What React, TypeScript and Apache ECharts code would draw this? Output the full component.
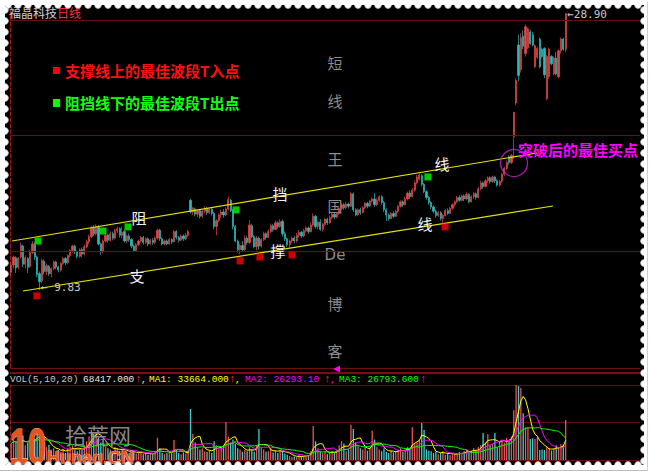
import React, { useEffect, useRef } from "react";
import * as echarts from "echarts";

const SLOT_COUNT = 267;

// [open, close, low, high]
const ohlcBase: number[][] = [
  [11.05, 11.55, 10.8, 11.75], [11.55, 12.1, 11.3, 12.2], [12.05, 11.35, 11.0, 12.15], [11.4, 12.0, 11.25, 12.1],
  [12.1, 12.9, 12.0, 13.1], [12.85, 11.6, 11.4, 12.95], [11.6, 12.05, 11.3, 12.2], [12.0, 11.4, 11.0, 12.1],
  [11.45, 12.4, 11.35, 12.6], [12.4, 13.0, 12.3, 13.2], [12.95, 12.1, 11.9, 13.1], [12.1, 10.9, 10.7, 12.2],
  [10.95, 10.4, 9.83, 11.1], [10.45, 11.85, 10.3, 12.0], [11.8, 11.1, 10.9, 11.95], [11.1, 11.5, 10.85, 11.65],
  [11.45, 10.95, 10.8, 11.55], [10.95, 11.3, 10.7, 11.4], [11.3, 11.75, 11.2, 11.85], [11.75, 11.4, 11.25, 11.85],
  [11.4, 11.2, 11.05, 11.5], [11.2, 11.65, 11.1, 11.75], [11.65, 12.0, 11.55, 12.1], [12.0, 11.7, 11.55, 12.1],
  [11.7, 12.2, 11.6, 12.3], [12.2, 12.55, 12.05, 12.65], [12.55, 12.85, 12.4, 12.95], [12.85, 12.45, 12.3, 12.95],
  [12.45, 12.15, 12.0, 12.55], [12.15, 12.6, 12.05, 12.7], [12.6, 12.3, 12.1, 12.75], [12.3, 12.8, 12.2, 12.95],
  [12.8, 13.15, 12.7, 13.3], [13.15, 13.5, 13.0, 13.65], [13.5, 14.1, 13.4, 14.25], [14.1, 13.7, 13.55, 14.3],
  [13.7, 14.2, 13.6, 14.35], [14.15, 13.0, 12.9, 14.3], [13.0, 12.45, 12.25, 13.1], [12.45, 13.2, 12.35, 13.3],
  [13.2, 13.6, 13.1, 13.75], [13.6, 13.25, 13.1, 13.7], [13.25, 13.7, 13.15, 13.85], [13.7, 13.4, 13.25, 13.85],
  [13.4, 13.9, 13.3, 14.05], [13.9, 14.05, 13.75, 14.2], [14.05, 13.6, 13.45, 14.15], [13.6, 13.8, 13.4, 14.2],
  [13.85, 13.2, 13.1, 13.95], [13.2, 13.55, 13.05, 13.65], [13.55, 13.3, 13.15, 13.7], [13.3, 12.85, 12.7, 13.4],
  [12.85, 12.55, 12.45, 12.95], [12.55, 12.95, 12.5, 13.05], [12.95, 13.2, 12.85, 13.3], [13.2, 13.45, 13.1, 13.55],
  [13.45, 13.1, 12.95, 13.55], [13.1, 13.35, 13.0, 13.45], [13.35, 13.0, 12.85, 13.45], [13.0, 13.25, 12.95, 13.35],
  [13.25, 13.1, 12.95, 13.4], [13.1, 13.4, 13.0, 13.5], [13.4, 13.95, 13.3, 14.05], [13.95, 13.35, 13.2, 14.05],
  [13.35, 13.0, 12.9, 13.45], [13.0, 13.2, 12.9, 13.3], [13.2, 13.0, 12.9, 13.3], [13.0, 13.3, 12.95, 13.4],
  [13.3, 13.15, 13.0, 13.4], [13.15, 13.85, 13.1, 13.95], [13.85, 13.45, 13.3, 13.95], [13.45, 13.25, 13.1, 13.55],
  [13.25, 13.55, 13.2, 13.65], [13.55, 13.35, 13.2, 13.65], [13.35, 13.6, 13.25, 13.75], [13.6, 13.85, 13.5, 13.95],
];

const ohlcChannel: number[][] = [
  [16.0, 15.2, 15.1, 16.1], [15.2, 15.45, 15.0, 15.55], [15.4, 15.05, 14.9, 15.5], [15.05, 15.3, 14.85, 15.4],
  [15.3, 14.9, 14.75, 15.4], [14.9, 15.25, 14.8, 15.35], [15.25, 15.45, 15.1, 15.6], [15.45, 15.15, 15.0, 15.55],
  [15.15, 15.4, 15.05, 15.5], [15.4, 15.1, 14.95, 15.5], [15.1, 14.2, 14.0, 15.2], [14.2, 14.6, 13.6, 14.7],
  [14.6, 15.0, 14.5, 15.1], [15.0, 15.2, 14.8, 15.35], [15.2, 15.0, 14.8, 15.4], [15.0, 15.4, 14.9, 15.55],
  [15.4, 16.05, 15.3, 16.25], [16.0, 15.3, 15.2, 16.1], [15.3, 14.2, 14.0, 15.4], [14.2, 13.2, 13.1, 14.3],
  [13.2, 12.6, 12.4, 13.3], [12.6, 12.9, 12.3, 13.0], [12.9, 12.6, 12.5, 13.2], [12.6, 13.4, 12.55, 13.6],
  [13.4, 13.1, 12.95, 13.55], [13.1, 14.3, 13.0, 14.65], [14.25, 13.5, 13.4, 14.4], [13.5, 12.8, 12.7, 13.6],
  [12.8, 13.4, 12.55, 13.55], [13.4, 12.85, 12.6, 13.5], [12.85, 13.3, 12.75, 13.4], [13.3, 13.7, 13.2, 13.85],
  [13.7, 13.45, 13.3, 13.8], [13.45, 13.85, 13.4, 14.0], [13.85, 14.25, 13.75, 14.4], [14.25, 14.0, 13.85, 14.35],
  [14.0, 14.45, 13.95, 14.6], [14.45, 14.2, 14.05, 14.55], [14.2, 14.55, 14.1, 14.7], [14.55, 13.7, 13.5, 14.65],
  [13.7, 13.35, 13.2, 13.85], [13.35, 12.95, 12.8, 13.45], [12.95, 13.2, 12.75, 13.3], [13.2, 13.4, 13.05, 13.5],
  [13.4, 13.2, 13.05, 13.55], [13.2, 13.6, 13.1, 13.75], [13.6, 13.8, 13.45, 13.95], [13.8, 13.55, 13.4, 13.9],
  [13.55, 13.9, 13.45, 14.05], [13.9, 14.1, 13.8, 14.2], [14.1, 13.85, 13.7, 14.2], [13.85, 14.3, 13.8, 14.45],
  [14.3, 14.9, 14.2, 15.1], [14.9, 14.2, 14.05, 15.0], [14.2, 14.5, 14.0, 14.6], [14.5, 14.0, 13.9, 14.7],
  [14.0, 14.35, 13.85, 14.45], [14.35, 14.7, 14.25, 14.8], [14.7, 14.45, 14.3, 14.8], [14.45, 14.8, 14.4, 14.95],
  [14.8, 15.05, 14.7, 15.15], [15.05, 14.85, 14.7, 15.15], [14.85, 15.1, 14.75, 15.2], [15.1, 15.45, 15.0, 15.55],
  [15.45, 15.7, 15.35, 15.8], [15.7, 15.5, 15.35, 15.8], [15.5, 15.75, 15.4, 15.9], [15.75, 15.6, 15.45, 15.85],
  [15.6, 16.45, 15.55, 16.6], [16.45, 15.35, 15.2, 16.55], [15.35, 15.0, 14.9, 15.45], [15.0, 15.35, 14.95, 15.45],
  [15.35, 15.15, 15.0, 15.5], [15.15, 15.5, 15.1, 15.6], [15.5, 15.8, 15.4, 15.9], [15.8, 15.6, 15.45, 15.9],
  [15.6, 15.95, 15.55, 16.05], [15.95, 16.1, 15.85, 16.2], [16.1, 15.7, 15.55, 16.5], [15.7, 16.0, 15.6, 16.15],
  [16.0, 16.25, 15.9, 16.35], [16.25, 15.85, 15.7, 16.35], [15.85, 15.35, 15.2, 15.95], [15.35, 15.0, 14.6, 15.45],
  [15.0, 14.75, 14.6, 15.1], [14.75, 15.1, 14.7, 15.2], [15.1, 14.9, 14.8, 15.25], [14.9, 15.25, 14.85, 15.35],
  [15.25, 15.6, 15.15, 15.7], [15.6, 15.9, 15.5, 16.0], [15.9, 15.7, 15.55, 16.0], [15.7, 16.1, 15.65, 16.25],
  [16.1, 16.5, 16.0, 16.6], [16.5, 16.25, 16.1, 16.7], [16.25, 16.7, 16.2, 16.85], [16.7, 17.2, 16.6, 17.35],
  [17.2, 17.6, 17.1, 17.75], [17.45, 17.75, 17.35, 17.85], [17.7, 17.1, 16.95, 17.8], [17.1, 16.6, 16.5, 17.2],
  [16.6, 16.2, 16.05, 16.7], [16.2, 15.85, 15.7, 16.3], [15.85, 15.55, 15.4, 15.95], [15.55, 15.25, 15.1, 15.65],
  [15.25, 14.95, 14.8, 15.35], [14.95, 15.15, 14.85, 15.25], [15.15, 14.75, 14.6, 15.25], [14.75, 14.95, 14.45, 15.05],
  [14.95, 15.3, 14.9, 15.4], [15.3, 15.1, 15.0, 15.45], [15.1, 15.45, 15.05, 15.55], [15.45, 15.7, 15.35, 15.8],
  [15.7, 15.9, 15.6, 16.0], [15.9, 16.2, 15.8, 16.3], [16.2, 16.0, 15.9, 16.35], [16.0, 16.3, 15.95, 16.4],
  [16.3, 16.1, 15.95, 16.4], [16.1, 16.4, 16.0, 16.55], [16.4, 15.9, 15.8, 16.5], [15.9, 16.25, 15.85, 16.35],
  [16.25, 16.45, 16.1, 16.55], [16.45, 16.2, 16.05, 16.55], [16.2, 16.8, 16.15, 16.9], [16.8, 17.2, 16.7, 17.35],
  [17.2, 16.95, 16.8, 17.3], [16.95, 17.35, 16.9, 17.45], [17.35, 17.55, 17.2, 17.65], [17.55, 17.3, 17.15, 17.65],
  [17.3, 17.6, 17.2, 17.7], [17.6, 17.35, 17.2, 17.7], [17.35, 17.05, 16.95, 17.45], [17.05, 17.3, 16.95, 17.4],
  [17.3, 17.8, 17.2, 17.9], [17.8, 18.2, 17.7, 18.3], [18.2, 18.6, 18.1, 18.75], [19.0, 18.6, 18.45, 19.1],
  [18.6, 19.1, 18.5, 19.2],
];

const ohlcBreakout: number[][] = [
  [20.4, 22.05, 18.85, 22.1], [22.7, 24.25, 22.55, 24.4], [26.7, 24.6, 24.2, 27.4], [25.0, 27.2, 24.8, 27.5],
  [27.3, 26.6, 26.4, 27.7], [26.1, 27.95, 25.9, 28.1], [26.5, 27.8, 26.4, 27.9], [27.6, 26.8, 26.7, 27.75],
  [27.4, 26.7, 26.6, 27.6], [25.2, 26.65, 25.1, 26.75], [25.85, 26.45, 25.75, 26.55], [27.1, 25.2, 25.1, 27.2],
  [26.4, 25.9, 25.8, 26.5], [26.45, 24.65, 24.4, 26.55], [23.0, 25.9, 22.9, 26.0], [24.5, 26.4, 24.35, 26.5],
  [25.9, 25.4, 25.3, 26.0], [24.7, 25.8, 24.6, 25.9], [25.8, 24.7, 24.6, 26.2], [24.5, 26.3, 24.4, 26.4],
  [26.3, 27.1, 26.1, 27.2], [27.1, 26.4, 26.3, 27.2], [26.4, 28.85, 26.2, 28.9],
];

// volume, thousands of shares
const volumeK: number[] = [
  28, 35, 30, 22, 38, 42, 25, 30, 33, 40, 36, 45, 48,
  40, 30, 22, 26, 18, 20, 15, 17, 14, 19, 12, 20, 22, 25, 18, 15, 20, 17,
  25, 32, 40, 52, 45, 48, 38, 30, 28, 22,
  20, 18, 15, 22, 20, 16, 18, 14, 15, 12, 16, 13, 11, 12, 14, 10, 12, 9, 11, 10, 13,
  38, 20, 12, 10, 12, 14, 11, 34, 18, 12, 10, 13, 11, 15,
  87, 45, 30, 22, 18, 20, 15, 14, 16, 12, 32, 25, 18, 20, 24,
  65, 40, 30, 35, 28, 20, 18, 14, 17, 15, 22, 18, 14, 25, 53,
  22, 18, 14, 15, 20, 13, 16, 12, 18, 15, 11, 9, 7, 5, 6, 5, 8, 6, 7, 9, 8, 15,
  58, 32, 20, 15, 12, 14, 10, 13, 15, 12, 18, 25, 32, 28, 15, 18,
  60, 53, 30, 25, 20, 18, 22, 16, 20, 50, 35, 22, 18, 15, 20, 14, 12, 16, 13, 15, 18, 20, 14, 17, 22, 19,
  56, 28, 30, 35, 63, 51, 18, 16, 15, 12, 14, 10, 12, 15, 9, 11, 8, 12, 10, 9, 14, 12, 15, 18, 13, 16, 20, 15, 22, 25,
  46, 30, 44, 25, 28, 46, 22, 32, 35, 30, 38, 34, 40,
  85, 128, 126, 123, 80, 56, 55, 36, 37, 36, 39, 17, 18, 17, 22, 20, 16, 19, 25, 22, 27, 26, 68.417,
];

// trend lines and signal points: [bar index, price]
const resistanceLine = [[0.35, 13.2], [222.8, 19.26]];
const supportLine = [[5.0, 9.76], [229.6, 15.61]];
const buyPoints = [[10.9, 9.42], [97.0, 11.83], [105.4, 12.1], [119.0, 12.24], [183.9, 14.17]];
const sellPoints = [[11.4, 13.2], [38.9, 13.89], [49.5, 14.17], [95.3, 15.34], [176.6, 17.61]];
const breakoutPoint = [213.1, 18.57];
const priceGridLevels = [12.51, 20.5, 28.41];
const highMark = { index: 235, price: 28.9 };
const lowMark = { index: 12, price: 9.83 };
const maPeriods = [5, 10, 20];
const volHeader = { last: "68417.000", ma1: "33664.000", ma2: "26293.10", ma3: "26793.600" };

const UP = "#e34848";
const DOWN = "#31b9b9";
const GRID_RED = "#6e0e0e";

function movingAverage(values: number[], n: number): number[] {
  const out: number[] = [];
  for (let i = 0; i < values.length; i++) {
    const s = Math.max(0, i - n + 1);
    let sum = 0;
    for (let j = s; j <= i; j++) sum += values[j];
    out.push(+(sum / (i - s + 1)).toFixed(2));
  }
  return out;
}

function borderGraphics(): any[] {
  const els: any[] = [];
  const bump = (cx: number, cy: number) => ({
    type: "circle",
    z: 100,
    shape: { cx, cy, r: 3.4 },
    style: { fill: "#ffffff", stroke: "#cdb9b9", lineWidth: 0.8 },
    silent: true,
  });
  for (let x = 8; x <= 642; x += 10) els.push(bump(x, 5));
  for (let x = 8; x <= 642; x += 10) els.push(bump(x, 465));
  for (let y = 10; y <= 462; y += 11) els.push(bump(5, y));
  for (let y = 10; y <= 462; y += 11) els.push(bump(644, y));
  const strip = (x: number, y: number, w: number, h: number) => ({
    type: "rect",
    z: 101,
    shape: { x, y, width: w, height: h },
    style: { fill: "#ffffff" },
    silent: true,
  });
  els.push(strip(0, 0, 651, 5), strip(0, 0, 5, 475), strip(644, 0, 7, 475), strip(0, 465, 651, 10));
  els.push({ type: "line", z: 102, shape: { x1: 0, y1: 470.5, x2: 647, y2: 470.5 }, style: { stroke: "#bdbdbd", lineWidth: 1 } });
  els.push({ type: "line", z: 102, shape: { x1: 647.5, y1: 2, x2: 647.5, y2: 471 }, style: { stroke: "#d0d0d0", lineWidth: 1 } });
  return els;
}

function txt(text: string, x: number, y: number, fill: string, font: string, align = "left", z = 50): any {
  return {
    type: "text",
    x,
    y,
    z,
    silent: true,
    style: { text, fill, font, align, verticalAlign: "middle", textAlign: align, textVerticalAlign: "middle" },
  };
}

export default function App() {
  const ref = useRef<HTMLDivElement>(null);

  useEffect(() => {
    if (!ref.current) return;
    document.body.style.margin = "0";
    const chart = echarts.init(ref.current, undefined, { renderer: "svg" });

    const ohlc = [...ohlcBase, ...ohlcChannel, ...ohlcBreakout];
    const slots = Array.from({ length: SLOT_COUNT }, (_, i) => String(i + 1));
    const volData = volumeK.map((v, i) => {
      const k = ohlc[i];
      const up = k ? k[1] >= k[0] : true;
      return { value: v, itemStyle: { color: up ? "#ee5252" : "#3fcfcf" } };
    });
    const maColors = ["#ffff00", "#ff00ff", "#00ff00"];
    const maSeries = maPeriods.map((p, idx) => ({
      type: "line",
      xAxisIndex: 2,
      yAxisIndex: 1,
      data: movingAverage(volumeK, p),
      showSymbol: false,
      symbol: "none",
      lineStyle: { color: maColors[idx], width: 1 },
      z: 4,
      silent: true,
    }));

    const mono = '"Liberation Mono", "DejaVu Sans Mono", monospace';
    const cjk = '"Noto Sans CJK SC", sans-serif';
    const hy = 379;

    const graphic: any[] = [
      // separator band above the volume header
      { type: "rect", z: 1, shape: { x: 10, y: 372, width: 630, height: 2 }, style: { fill: "#7c0c0c" }, silent: true },
      { type: "polygon", z: 60, shape: { points: [[333, 369], [340, 365.5], [340, 372.5]] }, style: { fill: "#ff00ff" } },
      txt("福晶科技", 9, 12, "#cfcfcf", `12px ${cjk}`),
      txt("日线", 57, 12, "#ff3030", `12px ${cjk}`),
      { type: "rect", z: 50, shape: { x: 53, y: 67, width: 7, height: 7 }, style: { fill: "#ff0000" } },
      txt("支撑线上的最佳波段T入点", 65, 70.5, "#ff1010", `bold 15px ${cjk}`),
      { type: "rect", z: 50, shape: { x: 53, y: 99, width: 7, height: 8 }, style: { fill: "#00ff00" } },
      txt("阻挡线下的最佳波段T出点", 65, 102.5, "#10ff10", `bold 15px ${cjk}`),
      txt("突破后的最佳买点", 518, 149, "#ff00ff", `bold 15px ${cjk}`),
      txt("阻", 139, 217, "#f2f2f2", `15px ${cjk}`, "center"),
      txt("挡", 280, 193, "#f2f2f2", `15px ${cjk}`, "center"),
      txt("线", 442, 163, "#f2f2f2", `15px ${cjk}`, "center"),
      txt("支", 137, 275, "#f2f2f2", `15px ${cjk}`, "center"),
      txt("撑", 278, 250, "#f2f2f2", `15px ${cjk}`, "center"),
      txt("线", 425, 223, "#f2f2f2", `15px ${cjk}`, "center"),
      txt("短", 335, 62, "#8c8c8c", `15px ${cjk}`, "center", 1),
      txt("线", 335, 100, "#8c8c8c", `15px ${cjk}`, "center", 1),
      txt("王", 335, 158, "#8c8c8c", `15px ${cjk}`, "center", 1),
      txt("国", 335, 205, "#8c8c8c", `15px ${cjk}`, "center", 1),
      txt("De", 335, 255, "#8c8c8c", `15px "DejaVu Sans", sans-serif`, "center", 1),
      txt("博", 335, 303, "#8c8c8c", `15px ${cjk}`, "center", 1),
      txt("客", 335, 350, "#8c8c8c", `15px ${cjk}`, "center", 1),
      // volume header
      txt("VOL(5,10,20)", 10, hy, "#c4c4c4", `9.5px ${mono}`),
      txt(volHeader.last, 83, hy, "#e6e6e6", `9.5px ${mono}`),
      txt("↑", 135, hy, "#ff3030", `11px ${mono}`),
      txt(",", 141, hy, "#e6e6e6", `9.5px ${mono}`),
      txt("MA1: " + volHeader.ma1, 149, hy, "#ffff00", `9.5px ${mono}`),
      txt("↑", 229, hy, "#ff3030", `11px ${mono}`),
      txt(",", 235, hy, "#ffff00", `9.5px ${mono}`),
      txt("MA2: " + volHeader.ma2, 245, hy, "#ff00ff", `9.5px ${mono}`),
      txt("↑", 324, hy, "#ff3030", `11px ${mono}`),
      txt(",", 330, hy, "#ff00ff", `9.5px ${mono}`),
      txt("MA3: " + volHeader.ma3, 339, hy, "#00ff00", `9.5px ${mono}`),
      txt("↑", 420, hy, "#ff3030", `11px ${mono}`),
      // watermark logo
      {
        type: "text", z: 70, x: 7, y: 447, scaleX: 0.66, scaleY: 1, originX: 7, originY: 447, silent: true,
        style: {
          text: "10", fill: "#e8521c", stroke: "#ffb08a", lineWidth: 1,
          font: 'bold 50px "Liberation Sans", sans-serif',
          verticalAlign: "middle", textVerticalAlign: "middle",
        },
      },
      txt("拾荒网", 65, 434, "rgba(150,150,150,0.92)", `22px ${cjk}`, "left", 70),
      {
        type: "text", z: 71, x: 47, y: 457.5, silent: true,
        style: {
          text: "Hunag.CN", fill: "#e8581e", stroke: "#ffffff", lineWidth: 0.6,
          font: 'bold 18px "Liberation Sans", sans-serif',
          verticalAlign: "middle", textVerticalAlign: "middle",
        },
      },
      ...borderGraphics(),
    ];

    const option: any = {
      animation: false,
      backgroundColor: "#000000",
      grid: [
        { left: 10, right: 11, top: 8, height: 360 },
        { left: 10, right: 11, top: 385, height: 75 },
      ],
      xAxis: [
        {
          type: "category", gridIndex: 0, data: slots, boundaryGap: true,
          axisLine: { show: true, lineStyle: { color: GRID_RED, width: 1 } },
          axisTick: { show: false }, axisLabel: { show: false }, splitLine: { show: false },
        },
        { type: "value", gridIndex: 0, min: -0.5, max: SLOT_COUNT - 0.5, show: false },
        {
          type: "category", gridIndex: 1, data: slots, boundaryGap: true,
          axisLine: { show: true, lineStyle: { color: GRID_RED, width: 1 } },
          axisTick: { show: false }, axisLabel: { show: false }, splitLine: { show: false },
        },
      ],
      yAxis: [
        {
          type: "value", gridIndex: 0, min: 4.46, max: 29.24,
          axisLine: { show: true, onZero: false, lineStyle: { color: "#a01818", type: "dashed", width: 1 } },
          axisTick: { show: false }, axisLabel: { show: false }, splitLine: { show: false },
        },
        {
          type: "value", gridIndex: 1, min: 0, max: 128, interval: 64,
          axisLine: { show: true, onZero: false, lineStyle: { color: "#a01818", type: "dashed", width: 1 } },
          axisTick: { show: false }, axisLabel: { show: false },
          splitLine: { show: true, lineStyle: { color: GRID_RED, width: 1 } },
        },
      ],
      graphic,
      series: [
        {
          type: "candlestick",
          xAxisIndex: 0,
          yAxisIndex: 0,
          data: ohlc,
          barWidth: 1.7,
          z: 3,
          itemStyle: { color: UP, color0: DOWN, borderColor: UP, borderColor0: DOWN, borderWidth: 0.7 },
          markLine: {
            silent: true,
            symbol: ["none", "none"],
            label: { show: false },
            lineStyle: { color: GRID_RED, type: "solid", width: 1 },
            data: priceGridLevels.map((v) => ({ yAxis: v })),
          },
          markPoint: {
            silent: true,
            symbol: "rect",
            symbolSize: 1,
            itemStyle: { color: "rgba(0,0,0,0)" },
            label: {
              show: true, position: "right", distance: 1, color: "#c8c8c8",
              fontFamily: '"DejaVu Sans Mono", monospace', fontSize: 11,
            },
            data: [
              { coord: [highMark.index, highMark.price], value: highMark.price, label: { formatter: "←" + highMark.price.toFixed(2), offset: [0, 2] } },
              { coord: [lowMark.index, lowMark.price], value: lowMark.price, label: { formatter: "← " + lowMark.price.toFixed(2), offset: [0, -2] } },
            ],
          },
        },
        {
          type: "line", xAxisIndex: 1, yAxisIndex: 0, data: resistanceLine, symbol: "none",
          lineStyle: { color: "#e2e200", width: 1.2 }, z: 5, silent: true,
        },
        {
          type: "line", xAxisIndex: 1, yAxisIndex: 0, data: supportLine, symbol: "none",
          lineStyle: { color: "#e2e200", width: 1.2 }, z: 5, silent: true,
        },
        {
          type: "scatter", xAxisIndex: 1, yAxisIndex: 0, data: buyPoints, symbol: "rect",
          symbolSize: 7, itemStyle: { color: "#ff0000" }, z: 6, silent: true,
        },
        {
          type: "scatter", xAxisIndex: 1, yAxisIndex: 0, data: sellPoints, symbol: "rect",
          symbolSize: 7, itemStyle: { color: "#00ff00" }, z: 6, silent: true,
        },
        {
          type: "scatter", xAxisIndex: 1, yAxisIndex: 0, data: [breakoutPoint], symbol: "circle",
          symbolSize: 27, itemStyle: { color: "rgba(0,0,0,0)", borderColor: "#d21fd2", borderWidth: 1.3 }, z: 6, silent: true,
        },
        {
          type: "bar", xAxisIndex: 2, yAxisIndex: 1, data: volData, barWidth: 1.3, z: 2, silent: true,
        },
        ...maSeries,
      ],
    };

    chart.setOption(option);
    return () => chart.dispose();
  }, []);

  return (
    <div
      ref={ref}
      style={{ position: "fixed", left: 0, top: 0, width: 651, height: 475, background: "#ffffff" }}
    />
  );
}
